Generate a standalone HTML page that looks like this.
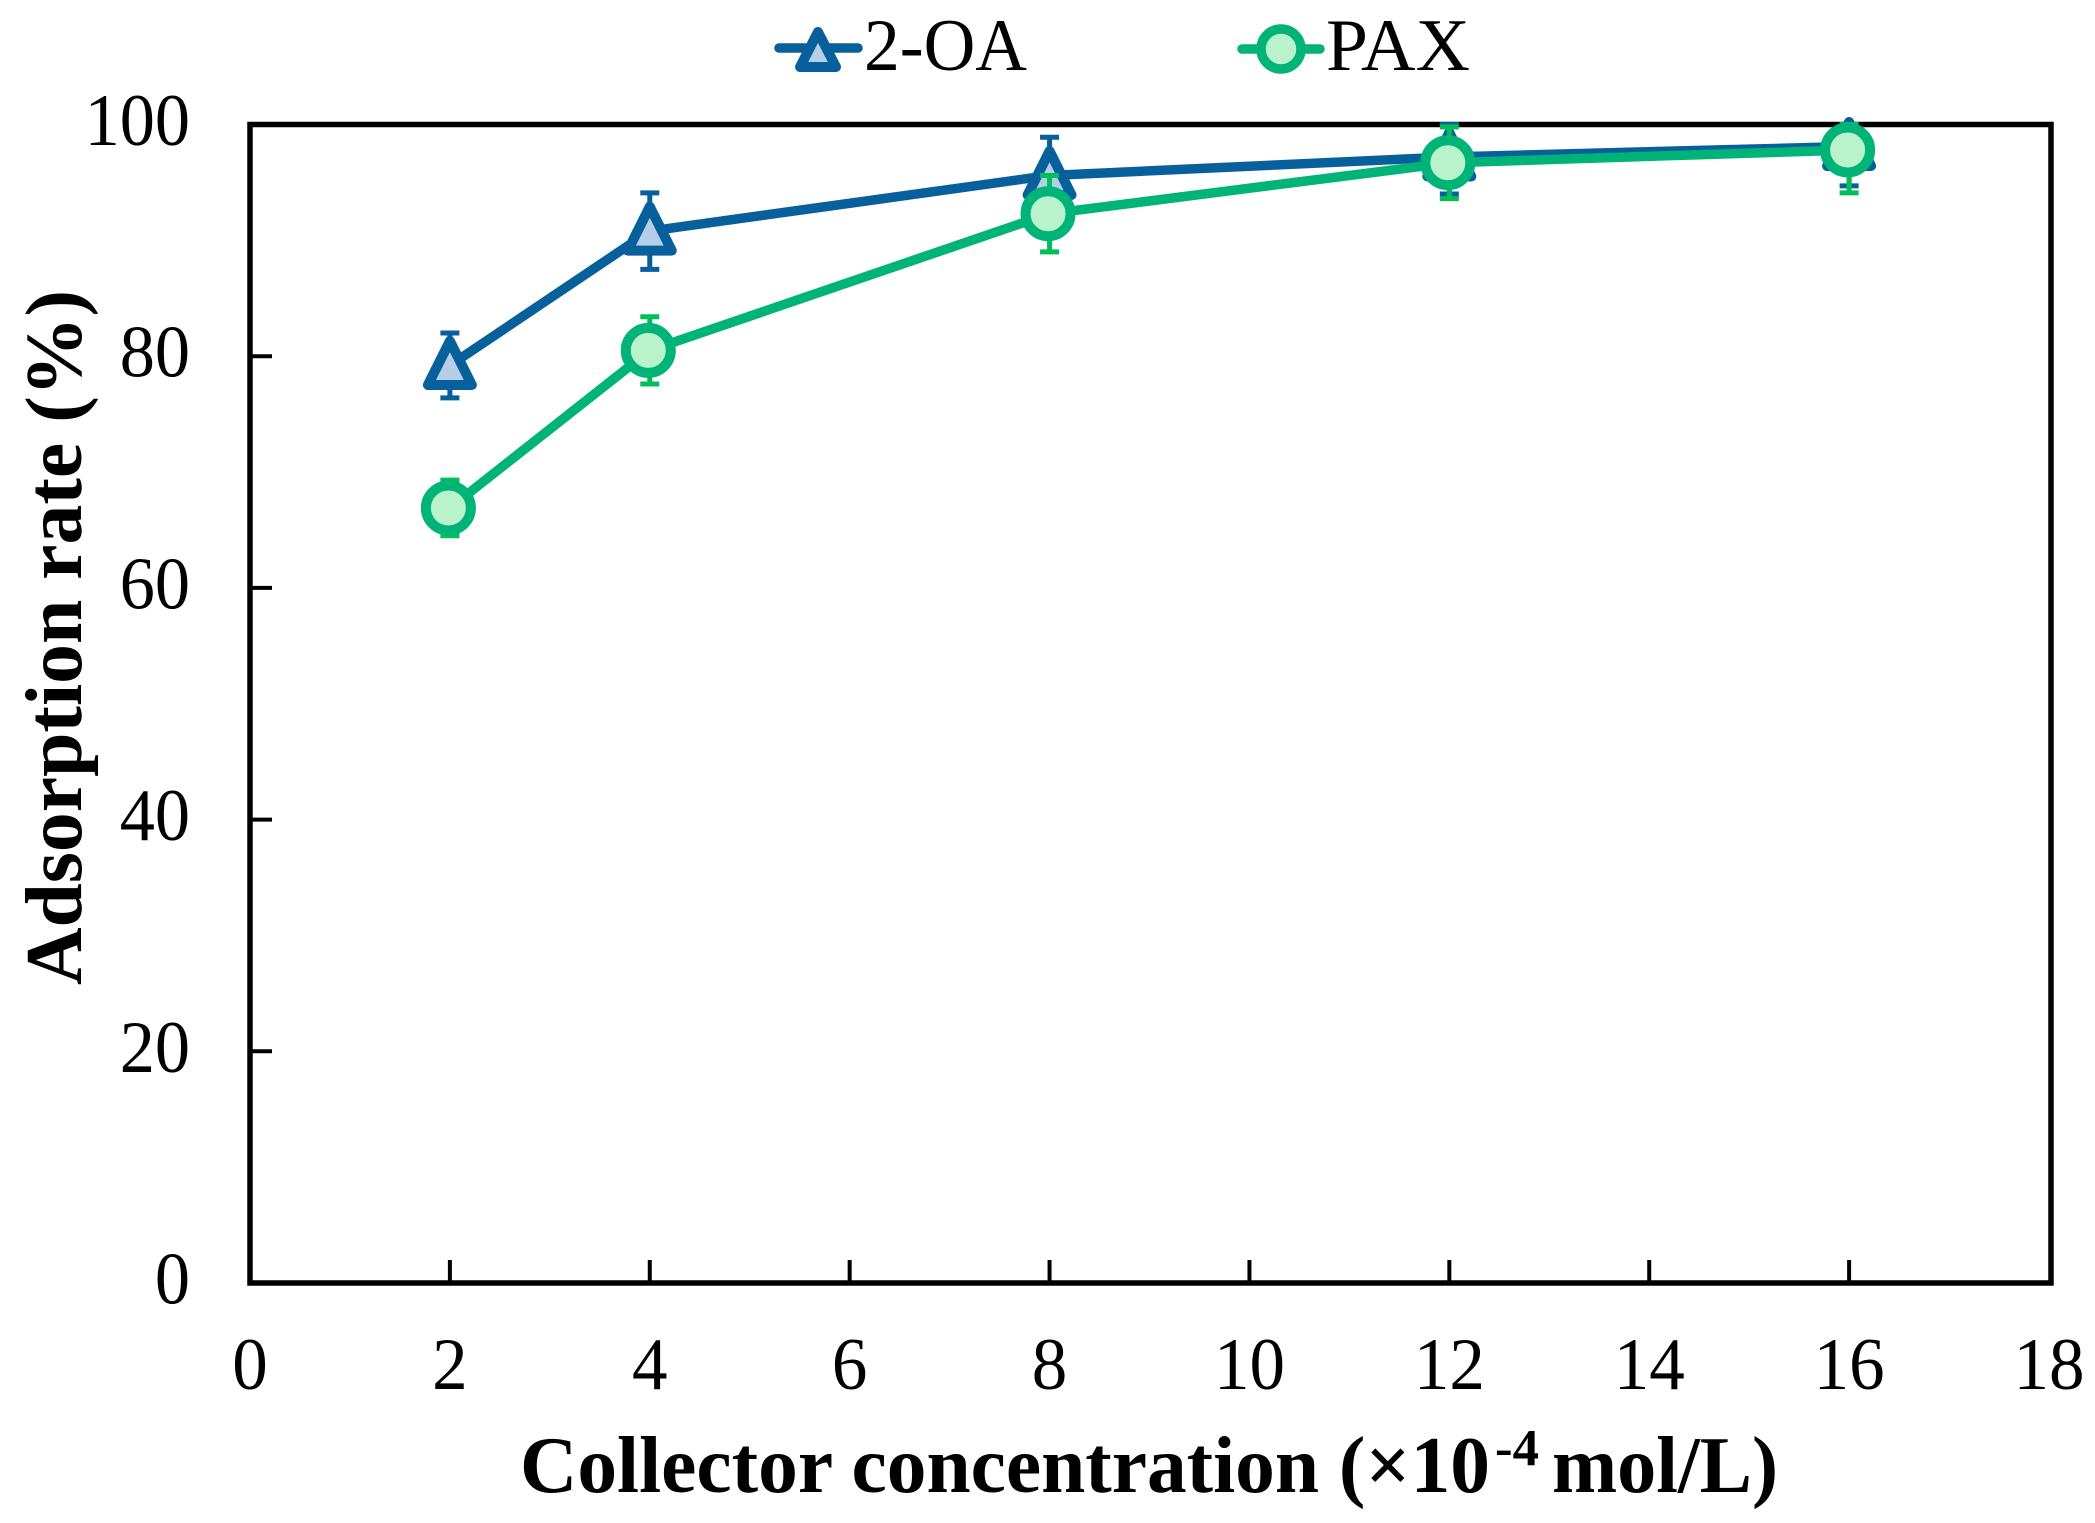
<!DOCTYPE html>
<html lang="en">
<head>
<meta charset="utf-8">
<title>Adsorption rate vs collector concentration</title>
<style>
html,body{margin:0;padding:0;background:#fff;}
svg{display:block;}
text{font-family:"Liberation Serif",serif;fill:#000;}
</style>
</head>
<body>
<svg id="chart" xmlns="http://www.w3.org/2000/svg" width="2095" height="1523" viewBox="0 0 2095 1523">
  <rect x="0" y="0" width="2095" height="1523" fill="#fff"/>
  <g id="axes"></g>
  <g id="series"></g>
  <g id="legend">
    <g>
      <line x1="779" y1="48" x2="858" y2="48" stroke="#075f9c" stroke-width="9.5" stroke-linecap="round"/>
      <polygon points="818,32 800,67 836,67" fill="#b5cfe8" stroke="#075f9c" stroke-width="10" stroke-linejoin="round"/>
      <text x="864" y="70" font-size="74" textLength="163" lengthAdjust="spacingAndGlyphs">2-OA</text>
    </g>
    <g>
      <line x1="1242" y1="49" x2="1320" y2="49" stroke="#00b376" stroke-width="9.5" stroke-linecap="round"/>
      <circle cx="1281" cy="49" r="20" fill="#b9f3cb" stroke="#00b376" stroke-width="9.5"/>
      <text x="1326" y="70" font-size="74" textLength="144" lengthAdjust="spacingAndGlyphs">PAX</text>
    </g>
  </g>
  <g id="titles">
    <g>
      <text x="520" y="1492" font-size="80" font-weight="bold" textLength="970" lengthAdjust="spacingAndGlyphs">Collector concentration (×10</text>
      <text x="1495" y="1465" font-size="52" font-weight="bold" textLength="44" lengthAdjust="spacingAndGlyphs">-4</text>
      <text x="1552" y="1492" font-size="80" font-weight="bold" textLength="226" lengthAdjust="spacingAndGlyphs">mol/L)</text>
    </g>
    <text transform="translate(81,985) rotate(-90)" font-size="80" font-weight="bold" textLength="695" lengthAdjust="spacingAndGlyphs">Adsorption rate (%)</text>
  </g>
</svg>
<script>
const concentrations = [2, 4, 8, 12, 16];
const oaValues = [79.2, 90.8, 95.6, 97.2, 98.1];
const oaErrors = [2.8, 3.3, 3.3, 3.2, 3.4];
const paxValues = [66.9, 80.5, 92.3, 96.7, 97.8];
const paxErrors = [2.4, 2.9, 3.3, 3.1, 3.7];
const xTickLabels = [0, 2, 4, 6, 8, 10, 12, 14, 16, 18];
const yTickLabels = [0, 20, 40, 60, 80, 100];

const X_MIN = 0, X_MAX = 18, Y_MIN = 0, Y_MAX = 100;
const PLOT = {left: 250, right: 2049, top: 124.5, bottom: 1283};
const NS = 'http://www.w3.org/2000/svg';

function xScale(v) { return PLOT.left + (v - X_MIN) / (X_MAX - X_MIN) * (PLOT.right - PLOT.left); }
function yScale(v) { return PLOT.bottom - (v - Y_MIN) / (Y_MAX - Y_MIN) * (PLOT.bottom - PLOT.top); }

function make(parent, tag, attrs) {
  const el = document.createElementNS(NS, tag);
  Object.keys(attrs).forEach(function (k) { el.setAttribute(k, attrs[k]); });
  parent.appendChild(el);
  return el;
}

const axes = document.getElementById('axes');
const seriesRoot = document.getElementById('series');

const frame = make(axes, 'rect', {x: PLOT.left, y: PLOT.top, width: PLOT.right - PLOT.left + 2, height: PLOT.bottom - PLOT.top, fill: 'none', stroke: '#000', 'stroke-width': 5.5});



xTickLabels.forEach(function (v) {
  const x = xScale(v);
  if (v > X_MIN && v < X_MAX) {
    const tick = make(axes, 'line', {x1: x, y1: PLOT.bottom, x2: x, y2: PLOT.bottom - 23, stroke: '#000', 'stroke-width': 4});
    
    
  }
  const label = make(axes, 'text', {transform: 'translate(' + x + ',1389) scale(0.96,1)', 'font-size': 74, 'text-anchor': 'middle'});
  label.textContent = String(v);
  
  
});

yTickLabels.forEach(function (v) {
  const y = yScale(v);
  if (v > Y_MIN && v < Y_MAX) {
    const tick = make(axes, 'line', {x1: PLOT.left, y1: y, x2: PLOT.left + 22, y2: y, stroke: '#000', 'stroke-width': 4});
    
    
  }
  const label = make(axes, 'text', {transform: 'translate(190,' + (y + 20.5) + ') scale(0.95,1)', 'font-size': 74, 'text-anchor': 'end'});
  label.textContent = String(v);
  
  
});

function drawSeries(name, values, errors, lineColor, capColor, fillColor, kind) {
  const group = make(seriesRoot, 'g', {});
  
  

  concentrations.forEach(function (c, i) {
    const x = xScale(c);
    const hi = yScale(Math.min(values[i] + errors[i], Y_MAX));
    const lo = yScale(values[i] - errors[i]);
    const bar = make(group, 'path', {d: 'M' + x + ' ' + hi + 'V' + lo + 'M' + (x - 9.5) + ' ' + hi + 'H' + (x + 9.5) + 'M' + (x - 9.5) + ' ' + lo + 'H' + (x + 9.5), fill: 'none', stroke: capColor, 'stroke-width': 5});
    
    
  });

  const pts = concentrations.map(function (c, i) { return xScale(c) + ',' + yScale(values[i]); }).join(' ');
  const line = make(group, 'polyline', {points: pts, fill: 'none', stroke: lineColor, 'stroke-width': 9.5, 'stroke-linejoin': 'round'});
  
  

  concentrations.forEach(function (c, i) {
    const x = xScale(c);
    const y = yScale(values[i]);
    let mark;
    if (kind === 'triangle') {
      mark = make(group, 'polygon', {points: x + ',' + (y - 24.5) + ' ' + (x - 22) + ',' + (y + 19.5) + ' ' + (x + 22) + ',' + (y + 19.5), fill: fillColor, stroke: lineColor, 'stroke-width': 10, 'stroke-linejoin': 'round'});
    } else {
      mark = make(group, 'circle', {cx: x - 1.5, cy: y, r: 22.5, fill: fillColor, stroke: lineColor, 'stroke-width': 10});
    }
    
    
  });
}

drawSeries('2-oa', oaValues, oaErrors, '#075f9c', '#075f9c', '#b5cfe8', 'triangle');
drawSeries('pax', paxValues, paxErrors, '#00b376', '#00bf59', '#b9f3cb', 'circle');
</script>
</body>
</html>
